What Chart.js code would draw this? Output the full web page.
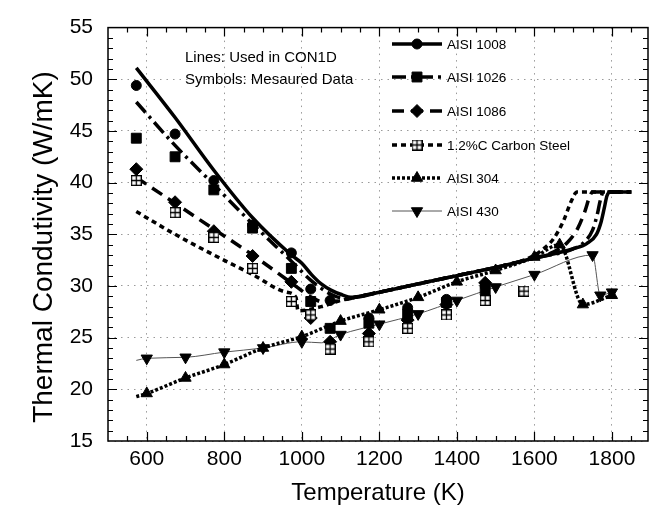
<!DOCTYPE html>
<html>
<head>
<meta charset="utf-8">
<script src="https://cdn.jsdelivr.net/npm/chart.js@4.4.1/dist/chart.umd.min.js"></script>
<style>
  html, body { margin: 0; padding: 0; background: #fff; }
  #wrap { width: 658px; height: 509px; }
</style>
</head>
<body>
<div id="wrap"><canvas id="c" width="658" height="509"></canvas></div>
<script>
// ---- axis ticks ----
const xTickValues = [600, 800, 1000, 1200, 1400, 1600, 1800];
const yTickValues = [15, 20, 25, 30, 35, 40, 45, 50, 55];

// ---- series names ----
const seriesNames = ['AISI 1008', 'AISI 1026', 'AISI 1086', '1.2%C Carbon Steel', 'AISI 304', 'AISI 430'];

// ---- CON1D model curves: [temperature K, conductivity W/mK] ----
const aisi1008Line = [[573, 51.1], [673, 46.3], [773, 41.2], [873, 36.6], [973, 33.0], [1000, 32.2], [1025, 31.1], [1050, 30.2], [1075, 29.6], [1100, 29.2], [1130, 28.9], [1200, 29.4], [1300, 30.2], [1400, 31.0], [1500, 31.8], [1600, 32.7], [1700, 33.6], [1735, 34.1], [1760, 35.0], [1772, 36.2], [1780, 37.5], [1787, 38.7], [1795, 39.1], [1850, 39.1]];
const aisi1026Line = [[573, 47.8], [673, 43.6], [773, 39.8], [873, 36.0], [973, 32.4], [1025, 30.5], [1075, 29.2], [1110, 28.8], [1150, 29.0], [1200, 29.4], [1300, 30.2], [1400, 31.0], [1500, 31.8], [1600, 32.7], [1700, 33.6], [1730, 34.3], [1750, 35.4], [1762, 36.9], [1770, 38.3], [1778, 39.1], [1850, 39.1]];
const aisi1086Line = [[573, 40.5], [673, 38.0], [773, 35.5], [873, 33.0], [973, 30.3], [1025, 28.9], [1060, 28.4], [1100, 28.6], [1150, 29.0], [1200, 29.4], [1300, 30.2], [1400, 31.0], [1500, 31.8], [1600, 32.7], [1650, 33.3], [1685, 34.2], [1712, 35.6], [1730, 37.2], [1742, 38.6], [1750, 39.1], [1850, 39.1]];
const carbon12Line = [[573, 37.2], [673, 35.0], [773, 33.0], [873, 31.1], [960, 29.4], [985, 28.9], [990, 27.6], [1050, 28.0], [1100, 28.6], [1150, 29.0], [1200, 29.4], [1300, 30.2], [1400, 31.0], [1500, 31.8], [1580, 32.6], [1620, 33.5], [1650, 34.6], [1675, 36.3], [1695, 38.2], [1710, 39.1], [1850, 39.1]];
const aisi304Line = [[573, 19.3], [600, 19.6], [700, 21.1], [800, 22.4], [900, 24.0], [1000, 25.1], [1100, 26.6], [1200, 27.7], [1300, 28.9], [1400, 30.4], [1500, 31.5], [1600, 32.8], [1665, 34.0], [1725, 28.2], [1800, 29.1]];
const aisi430Line = [[573, 22.8], [600, 23.0], [700, 23.1], [800, 23.6], [900, 24.0], [1000, 24.6], [1050, 24.5], [1100, 25.3], [1200, 26.3], [1300, 27.3], [1400, 28.6], [1500, 29.9], [1600, 31.1], [1750, 33.0], [1770, 29.1], [1800, 29.4]];

// ---- measured data ----
const carbonTemps = [573, 673, 773, 873, 973, 1023, 1073, 1173, 1273, 1373, 1473, 1573];
const aisi1008Measured = [49.4, 44.7, 40.2, 35.9, 33.2, 29.7, 28.6, 26.9, 27.9, 28.7, 30.0, null];
const aisi1026Measured = [44.3, 42.5, 39.3, 35.6, 31.7, 28.5, 25.9, 26.4, 27.3, 28.4, 29.6, null];
const aisi1086Measured = [41.3, 38.1, 35.3, 32.9, 30.4, 26.9, 24.6, 25.4, 26.7, 28.2, 30.3, null];
const carbon12Measured = [40.2, 37.1, 34.7, 31.7, 28.5, 27.2, 23.9, 24.6, 25.9, 27.2, 28.6, 29.5];
const stainlessTemps304 = [600, 700, 800, 900, 1000, 1100, 1200, 1300, 1400, 1500, 1600, 1665, 1725, 1800];
const aisi304Measured = [19.6, 21.1, 22.4, 24.0, 25.1, 26.6, 27.7, 28.9, 30.4, 31.5, 32.8, 34.0, 28.2, 29.1];
const stainlessTemps430 = [600, 700, 800, 900, 1000, 1100, 1200, 1300, 1400, 1500, 1600, 1750, 1770, 1800];
const aisi430Measured = [23.0, 23.1, 23.6, 24.0, 24.6, 25.3, 26.3, 27.3, 28.6, 29.9, 31.1, 33.0, 29.1, 29.4];

const yTitle = 'Thermal Condutivity (W/mK)';
const xTitle = 'Temperature (K)';

const FONT = "'Liberation Sans', Arial, Helvetica, sans-serif";
Chart.defaults.font.family = FONT;
Chart.defaults.color = '#000';

// square-with-plus marker
function boxPlusMarker(size) {
  const c = document.createElement('canvas');
  c.width = size; c.height = size;
  const g = c.getContext('2d');
  g.fillStyle = '#fff';
  g.fillRect(0, 0, size, size);
  g.strokeStyle = '#000';
  g.lineWidth = 1.3;
  g.strokeRect(0.65, 0.65, size - 1.3, size - 1.3);
  g.beginPath();
  g.moveTo(size / 2, 0.5); g.lineTo(size / 2, size - 0.5);
  g.moveTo(0.5, size / 2); g.lineTo(size - 0.5, size / 2);
  g.stroke();
  return c;
}
const boxPlus = boxPlusMarker(11);

// line style and marker of each material
const styles = [
  { dash: [], width: 3.5, color: '#000', marker: { pointStyle: 'circle', radius: 5, rotation: 0 } },
  { dash: [14, 5, 3, 5], width: 3.5, color: '#000', marker: { pointStyle: 'rect', radius: 7, rotation: 0 } },
  { dash: [12, 7], width: 3.5, color: '#000', marker: { pointStyle: 'rectRot', radius: 6.5, rotation: 0 } },
  { dash: [5, 4], width: 3.5, color: '#000', marker: { pointStyle: boxPlus, radius: 5.5, rotation: 0 } },
  { dash: [3, 2], width: 3.5, color: '#000', marker: { pointStyle: 'triangle', radius: 6.5, rotation: 0 } },
  { dash: [], width: 1, color: '#555', marker: { pointStyle: 'triangle', radius: 6.5, rotation: 180 } }
];

const toXY = pts => pts.map(p => ({ x: p[0], y: p[1] }));
const zipXY = (xs, ys) => xs.map((x, i) => ({ x, y: ys[i] })).filter(p => p.y !== null);

function lineSet(i, pts) {
  const s = styles[i];
  return {
    type: 'line', label: seriesNames[i] + ' model', data: toXY(pts),
    borderColor: s.color, borderWidth: s.width, borderDash: s.dash,
    borderCapStyle: 'butt', pointRadius: 0, fill: false,
    cubicInterpolationMode: 'monotone', order: 10 + i
  };
}
function pointSet(i, xs, ys) {
  const s = styles[i];
  return {
    type: 'scatter', label: seriesNames[i], data: zipXY(xs, ys), showLine: false,
    pointStyle: s.marker.pointStyle, pointRadius: s.marker.radius, pointRotation: s.marker.rotation,
    pointBackgroundColor: '#000', pointBorderColor: '#000', pointBorderWidth: 1,
    pointHoverRadius: s.marker.radius, order: 6 - i
  };
}

const datasets = [
  lineSet(0, aisi1008Line), lineSet(1, aisi1026Line), lineSet(2, aisi1086Line),
  lineSet(3, carbon12Line), lineSet(4, aisi304Line), lineSet(5, aisi430Line),
  pointSet(0, carbonTemps, aisi1008Measured), pointSet(1, carbonTemps, aisi1026Measured),
  pointSet(2, carbonTemps, aisi1086Measured), pointSet(3, carbonTemps, carbon12Measured),
  pointSet(4, stainlessTemps304, aisi304Measured), pointSet(5, stainlessTemps430, aisi430Measured)
];

// frame with inward minor/major ticks on all four sides, plus the vertical axis title
const frameTicks = {
  id: 'frameTicks',
  afterDraw(chart) {
    const { ctx, chartArea: { left, right, top, bottom }, scales: { x, y } } = chart;
    ctx.save();
    ctx.setLineDash([]);
    ctx.strokeStyle = '#000';
    ctx.lineWidth = 1.2;
    ctx.beginPath();
    for (let v = 550; v <= 1850; v += 50) {
      const px = Math.round(x.getPixelForValue(v)) + 0.5;
      const len = v % 200 === 0 ? 9 : 5;
      ctx.moveTo(px, bottom); ctx.lineTo(px, bottom - len);
      ctx.moveTo(px, top); ctx.lineTo(px, top + len);
    }
    for (let v = 16; v <= 54; v += 1) {
      const py = Math.round(y.getPixelForValue(v)) + 0.5;
      const len = v % 5 === 0 ? 9 : 5;
      ctx.moveTo(left, py); ctx.lineTo(left + len, py);
      ctx.moveTo(right, py); ctx.lineTo(right - len, py);
    }
    ctx.stroke();
    ctx.lineWidth = 1.5;
    ctx.strokeRect(left, top, right - left, bottom - top);

    // vertical axis title
    ctx.translate(44, 247);
    ctx.rotate(-Math.PI / 2);
    ctx.font = '28px ' + FONT;
    ctx.fillStyle = '#000';
    ctx.textAlign = 'center';
    ctx.textBaseline = 'middle';
    ctx.fillText(yTitle, 0, 0);
    ctx.restore();
  }
};

// in-plot legend (line sample with marker) and note text
const legendNotes = {
  id: 'legendNotes',
  afterDatasetsDraw(chart) {
    const ctx = chart.ctx;
    ctx.save();
    ctx.fillStyle = '#000';
    ctx.textBaseline = 'middle';
    ctx.font = '15px ' + FONT;
    ctx.fillText('Lines: Used in CON1D', 185, 58);
    ctx.fillText('Symbols: Mesaured Data', 185, 80);

    const x0 = 392, x1 = 442, tx = 447;
    const rows = [44, 77, 111, 145, 178, 211];
    ctx.font = '13.5px ' + FONT;
    seriesNames.forEach((name, i) => {
      const s = styles[i];
      const yy = rows[i];
      ctx.save();
      ctx.strokeStyle = s.color;
      ctx.lineWidth = s.width;
      ctx.setLineDash(s.dash);
      ctx.beginPath();
      ctx.moveTo(x0, yy); ctx.lineTo(x1, yy);
      ctx.stroke();
      ctx.setLineDash([]);
      ctx.fillStyle = '#000';
      ctx.strokeStyle = '#000';
      ctx.lineWidth = 1;
      Chart.helpers.drawPoint(ctx, { pointStyle: s.marker.pointStyle, radius: s.marker.radius, rotation: s.marker.rotation, borderWidth: 1 }, (x0 + x1) / 2, yy);
      ctx.restore();
      ctx.fillText(name, tx, yy + 1);
    });
    ctx.restore();
  }
};

new Chart(document.getElementById('c'), {
  data: { datasets },
  options: {
    responsive: false,
    animation: false,
    devicePixelRatio: 1,
    layout: { padding: { left: 0, right: 10, top: 22, bottom: 0 } },
    plugins: { legend: { display: false }, tooltip: { enabled: false } },
    scales: {
      x: {
        type: 'linear', min: 500, max: 1893,
        afterBuildTicks: s => { s.ticks = xTickValues.map(v => ({ value: v })); },
        afterFit: s => { s.height = 68; },
        grid: { color: '#9a9a9a', lineWidth: 1, drawTicks: false },
        border: { display: false, dash: [1.5, 5] },
        ticks: { padding: 6, autoSkip: false, maxRotation: 0, color: '#000', font: { size: 21 }, callback: v => String(v) },
        title: { display: true, text: xTitle, color: '#000', font: { size: 24 }, padding: { top: 0, bottom: 1 } }
      },
      y: {
        type: 'linear', min: 15, max: 55,
        afterBuildTicks: s => { s.ticks = yTickValues.map(v => ({ value: v })); },
        afterFit: s => { s.width = 108; },
        grid: { color: '#9a9a9a', lineWidth: 1, drawTicks: false },
        border: { display: false, dash: [1.5, 5] },
        ticks: { padding: 15, autoSkip: false, color: '#000', font: { size: 21 }, callback: v => String(v) },
        title: { display: false }
      }
    }
  },
  plugins: [legendNotes, frameTicks]
});
</script>
</body>
</html>
